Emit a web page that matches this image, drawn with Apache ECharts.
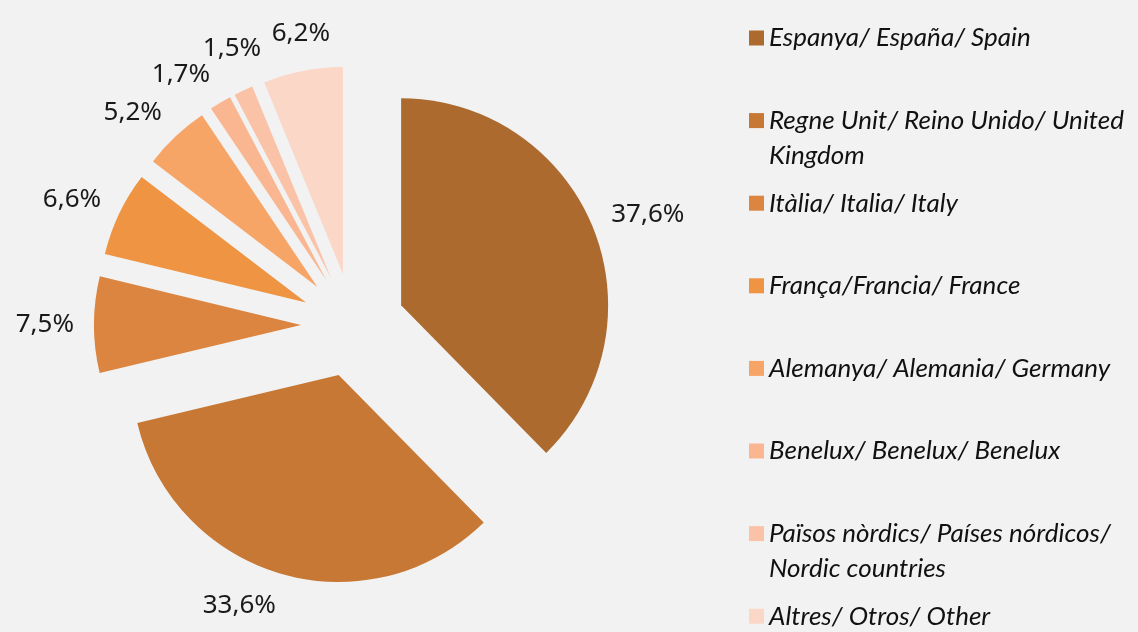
<!DOCTYPE html>
<html>
<head>
<meta charset="utf-8"/>
<title>Pie</title>
<script src="https://cdn.jsdelivr.net/npm/echarts@6/dist/echarts.min.js"></script>
<style>
  html, body { margin: 0; padding: 0; background: #f2f2f2; }
  #chart { width: 1138px; height: 632px; }
</style>
</head>
<body>
<div id="chart"></div>
<script>
// dades
var countries = [
  'Espanya/ España/ Spain',
  'Regne Unit/ Reino Unido/ United Kingdom',
  'Itàlia/ Italia/ Italy',
  'França/Francia/ France',
  'Alemanya/ Alemania/ Germany',
  'Benelux/ Benelux/ Benelux',
  'Països nòrdics/ Países nórdicos/ Nordic countries',
  'Altres/ Otros/ Other'
];
var shares = [37.6, 33.6, 7.5, 6.6, 5.2, 1.7, 1.5, 6.2];
var colors = ['#ad6a2f', '#c77834', '#dc8540', '#ee9442', '#f7a467', '#f9b690', '#fac3a8', '#fbd7c8'];

// pie geometry
var CX = 353, CY = 325, R = 207, OFF = 52, LBL = 20, PADX = 10;

var chart = echarts.init(document.getElementById('chart'));

var total = shares.reduce(function (a, b) { return a + b; }, 0);

function midDir(i) {
  var before = 0;
  for (var k = 0; k < i; k++) before += shares[k];
  var a = (before + shares[i] / 2) / total * 2 * Math.PI; // clockwise from top
  return [Math.sin(a), -Math.cos(a)];
}

var placed = [];
function overlaps(r) {
  for (var k = 0; k < placed.length; k++) {
    var p = placed[k];
    if (r.x < p.x + p.w + PADX && r.x + r.w + PADX > p.x && r.y < p.y + p.h && r.y + r.h > p.y) return true;
  }
  return false;
}

// labels sit just outside the end of each slice, nudged clockwise if they collide
function layoutLabel(params) {
  var i = params.dataIndex;
  if (i === 0) placed = [];
  var d = midDir(i);
  var lr = params.labelRect;
  var w = lr.width, h = lr.height;
  var t = R + LBL + OFF;
  var fx = Math.min(1, Math.abs(d[0]) * 4) * (d[0] < 0 ? -1 : 1);
  var x = CX + d[0] * t + fx * w / 2;
  var y = CY + d[1] * t + d[1] * h / 2;
  var tan = [-d[1], d[0]];
  var n = 0;
  while (overlaps({ x: x - w / 2, y: y - h / 2, w: w, h: h }) && n < 120) {
    x += tan[0]; y += tan[1]; n++;
  }
  placed.push({ x: x - w / 2, y: y - h / 2, w: w, h: h });
  // labelRect is before the slice offset, which is added afterwards
  var curX = lr.x + w / 2 + OFF * d[0];
  var curY = lr.y + h / 2 + OFF * d[1];
  return { dx: x - curX, dy: y - curY };
}

var pieData = countries.map(function (c, i) {
  return { name: c, value: shares[i], selected: true, itemStyle: { color: colors[i] } };
});

var legendTop = 20, legendStep = 82.6;
var legends = countries.map(function (c, i) {
  return {
    orient: 'vertical',
    left: 744,
    top: legendTop + i * legendStep,
    itemWidth: 15,
    itemHeight: 15,
    icon: 'rect',
    selectedMode: false,
    formatter: '{n|{name}}',
    textStyle: {
      fontFamily: 'Lato',
      fontStyle: 'italic',
      fontSize: 26,
      color: '#111',
      width: 450,
      height: 35,
      overflow: 'break',
      rich: {
        n: { fontFamily: 'Lato', fontStyle: 'italic', fontSize: 26, lineHeight: 35, color: '#111' }
      }
    },
    data: [c]
  };
});

var option = {
  backgroundColor: '#f2f2f2',
  animation: false,
  legend: legends,
  series: [{
    type: 'pie',
    center: [CX, CY],
    radius: R,
    startAngle: 90,
    clockwise: true,
    selectedMode: 'multiple',
    selectedOffset: OFF,
    avoidLabelOverlap: false,
    label: {
      show: true,
      position: 'outside',
      fontFamily: 'Noto Sans',
      fontSize: 26,
      color: '#1a1a1a',
      textBorderWidth: 0,
      formatter: function (p) { return p.value.toFixed(1).replace('.', ',') + '%'; }
    },
    labelLine: { show: false },
    labelLayout: layoutLabel,
    emphasis: { disabled: true },
    data: pieData
  }]
};
chart.setOption(option);
</script>
</body>
</html>
